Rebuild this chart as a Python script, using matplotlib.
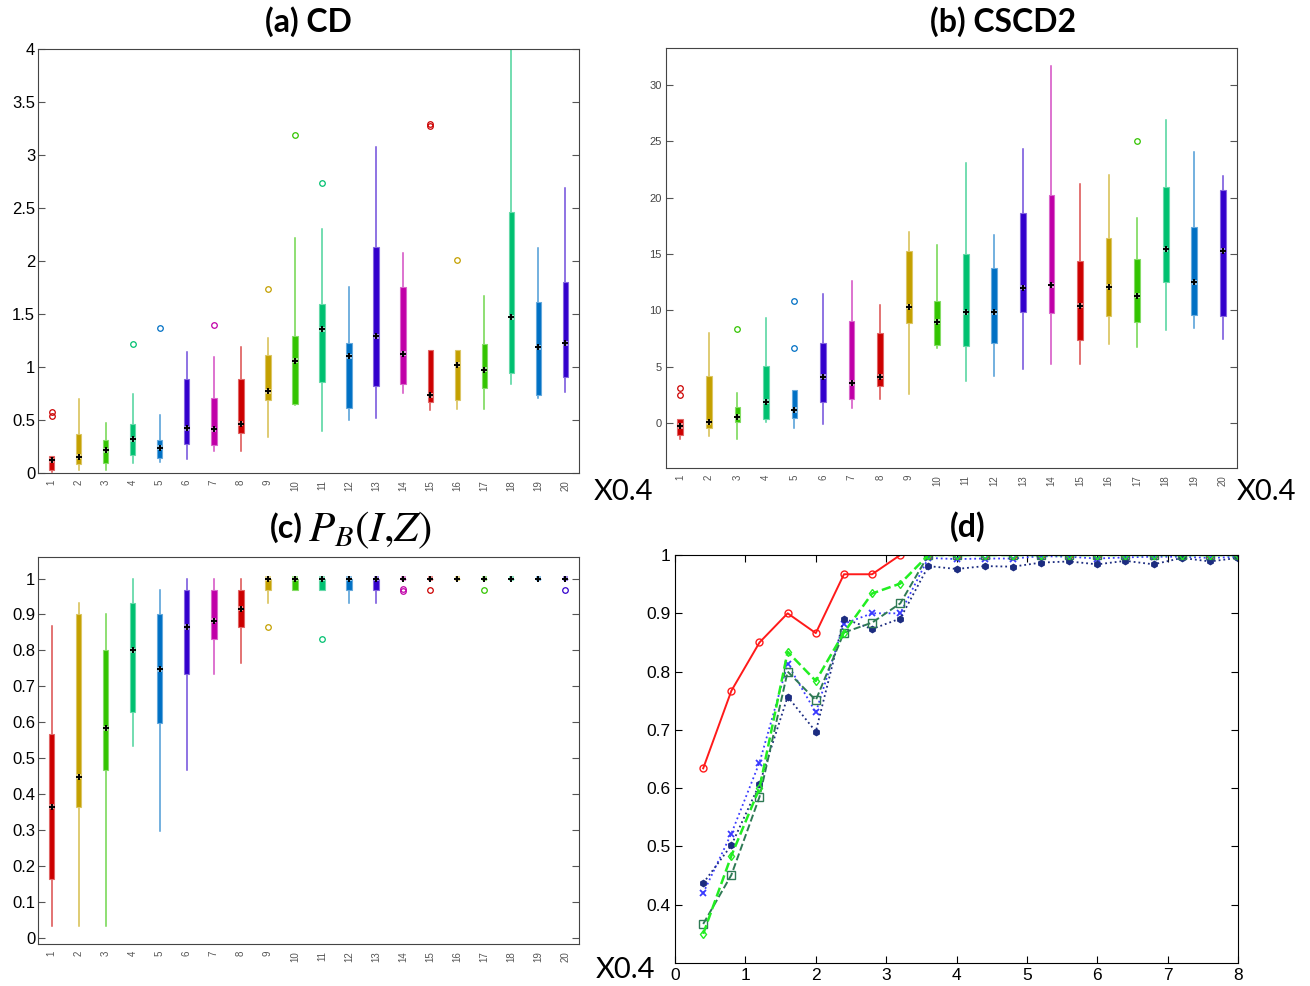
import numpy as np
import matplotlib.pyplot as plt
from matplotlib.ticker import FuncFormatter
from matplotlib.colors import to_rgb

plt.rcParams['mathtext.fontset'] = 'stix'
plt.rcParams['font.family'] = ['Liberation Sans', 'DejaVu Sans']

groups = list(range(1, 21))
palette = ['#cc0000', '#c4a000', '#33c400', '#00c070', '#0070c4', '#3300cc', '#c000a8']

# (a) CD  -- lower whisker, q1, median, q3, upper whisker, outliers
cd_lo = [0.01, 0.025, 0.025, 0.094, 0.104, 0.135, 0.208, 0.208, 0.34, 0.639,
         0.40, 0.50, 0.523, 0.756, 0.592, 0.605, 0.605, 0.838, 0.709, 0.765]
cd_q1 = [0.025, 0.088, 0.098, 0.167, 0.142, 0.277, 0.261, 0.375, 0.69, 0.649,
         0.86, 0.611, 0.819, 0.835, 0.671, 0.693, 0.803, 0.939, 0.74, 0.904]
cd_med = [0.12, 0.154, 0.214, 0.318, 0.239, 0.422, 0.413, 0.466, 0.769, 1.061,
          1.357, 1.10, 1.288, 1.124, 0.734, 1.02, 0.976, 1.468, 1.184, 1.222]
cd_q3 = [0.164, 0.365, 0.309, 0.466, 0.309, 0.891, 0.712, 0.885, 1.109, 1.291,
         1.594, 1.222, 2.13, 1.757, 1.159, 1.159, 1.213, 2.46, 1.609, 1.798]
cd_hi = [0.164, 0.696, 0.476, 0.743, 0.545, 1.14, 1.09, 1.184, 1.272, 2.217,
         2.30, 1.751, 3.077, 2.079, 1.159, 1.159, 1.672, 4.3, 2.12, 2.693]
cd_out = [[0.542, 0.573], [], [], [1.219], [1.364], [], [1.40], [], [1.739], [3.187],
          [2.737], [], [], [], [3.27, 3.294], [2.01], [], [], [], []]

# (b) CSCD2
cs_lo = [-1.39, -1.15, -1.39, 0.09, -0.44, -0.06, 1.36, 2.10, 2.58, 6.66,
         3.76, 4.15, 4.80, 5.27, 5.27, 7.02, 6.72, 8.29, 8.44, 7.49]
cs_q1 = [-1.096, -0.44, 0.09, 0.33, 0.44, 1.87, 2.10, 3.29, 8.88, 6.96,
         6.87, 7.14, 9.89, 9.80, 7.34, 9.51, 8.94, 12.53, 9.59, 9.51]
cs_med = [-0.27, 0.06, 0.53, 1.87, 1.15, 4.12, 3.55, 4.12, 10.33, 8.97,
          9.83, 9.83, 11.99, 12.23, 10.42, 12.08, 11.28, 15.43, 12.47, 15.31]
cs_q3 = [0.385, 4.15, 1.42, 5.03, 2.96, 7.14, 9.06, 7.97, 15.28, 10.81,
         14.98, 13.77, 18.66, 20.28, 14.42, 16.40, 14.54, 20.94, 17.44, 20.70]
cs_hi = [0.385, 8.02, 2.69, 9.36, 2.96, 11.46, 12.64, 10.45, 16.97, 15.84,
         23.07, 16.67, 24.28, 31.68, 21.20, 22.0, 18.24, 26.92, 24.04, 21.91]
cs_out = [[2.52, 3.11], [], [8.38], [], [10.87, 6.66], [], [], [], [], [],
          [], [], [], [], [], [], [24.99], [], [], []]

# (c) P_B(I,Z)
pb_lo = [0.033, 0.033, 0.033, 0.533, 0.298, 0.466, 0.733, 0.765, 0.932, 0.967,
         0.967, 0.932, 0.932, 1.0, 1.0, 1.0, 1.0, 1.0, 1.0, 1.0]
pb_q1 = [0.164, 0.365, 0.466, 0.63, 0.599, 0.733, 0.832, 0.865, 0.967, 0.967,
         0.967, 0.967, 0.967, 1.0, 1.0, 1.0, 1.0, 1.0, 1.0, 1.0]
pb_med = [0.365, 0.449, 0.583, 0.80, 0.748, 0.865, 0.883, 0.916, 1.0, 1.0,
          1.0, 1.0, 1.0, 1.0, 1.0, 1.0, 1.0, 1.0, 1.0, 1.0]
pb_q3 = [0.567, 0.90, 0.80, 0.932, 0.90, 0.967, 0.967, 0.967, 1.0, 1.0,
         1.0, 1.0, 1.0, 1.0, 1.0, 1.0, 1.0, 1.0, 1.0, 1.0]
pb_hi = [0.867, 0.932, 0.90, 1.0, 0.967, 1.0, 1.0, 1.0, 1.0, 1.0,
         1.0, 1.0, 1.0, 1.0, 1.0, 1.0, 1.0, 1.0, 1.0, 1.0]
pb_out = [[], [], [], [], [], [], [], [], [0.865], [],
          [0.832], [], [], [0.966, 0.971], [0.967], [], [0.967], [], [], [0.967]]

# (d) curves over the scaled index
d_x = [0.4, 0.8, 1.2, 1.6, 2.0, 2.4, 2.8, 3.2, 3.6, 4.0,
       4.4, 4.8, 5.2, 5.6, 6.0, 6.4, 6.8, 7.2, 7.6, 8.0]
d_red = [0.634, 0.767, 0.85, 0.90, 0.866, 0.967, 0.967, 1.0, 1.0, 1.0,
         1.0, 1.0, 1.0, 1.0, 1.0, 1.0, 1.0, 1.0, 1.0, 1.0]
d_lime = [0.35, 0.484, 0.60, 0.834, 0.784, 0.867, 0.934, 0.951, 1.0, 1.0,
          1.0, 1.0, 1.0, 1.0, 1.0, 1.0, 1.0, 1.0, 1.0, 1.0]
d_sq = [0.367, 0.451, 0.585, 0.80, 0.751, 0.867, 0.884, 0.917, 1.0, 1.0,
        1.0, 1.0, 1.0, 1.0, 1.0, 1.0, 1.0, 1.0, 1.0, 1.0]
d_cross = [0.42, 0.522, 0.644, 0.813, 0.73, 0.882, 0.90, 0.90, 0.995, 0.993,
           0.994, 0.994, 0.998, 0.997, 0.994, 0.996, 0.997, 0.997, 0.995, 0.997]
d_star = [0.437, 0.502, 0.607, 0.757, 0.697, 0.891, 0.873, 0.891, 0.981, 0.976,
          0.981, 0.98, 0.987, 0.989, 0.984, 0.99, 0.984, 0.995, 0.989, 0.995]


def lighten(c, f=0.45):
    r, g, b = to_rgb(c)
    return (r + (1 - r) * f, g + (1 - g) * f, b + (1 - b) * f)


def compact_box(ax, lo, q1, med, q3, hi, out):
    stats = [dict(whislo=a, q1=b, med=m, q3=d, whishi=e, fliers=f)
             for a, b, m, d, e, f in zip(lo, q1, med, q3, hi, out)]
    bp = ax.bxp(stats, positions=groups, widths=0.2, patch_artist=True,
                showcaps=False, manage_ticks=False)
    cols = [palette[i % len(palette)] for i in range(len(groups))]
    for box, c in zip(bp['boxes'], cols):
        box.set_facecolor(c)
        box.set_edgecolor(lighten(c, 0.4))
        box.set_linewidth(0.8)
    for i, w in enumerate(bp['whiskers']):
        w.set_color(lighten(cols[i // 2], 0.3))
        w.set_linewidth(1.1)
        w.set_zorder(1)
    for fl, c in zip(bp['fliers'], cols):
        fl.set(marker='o', markerfacecolor='none', markeredgecolor=c,
               markersize=4, markeredgewidth=0.9)
    for m in bp['medians']:
        m.set_visible(False)
    ax.scatter(groups, med, s=14, marker='s', facecolor=[lighten(c, 0.55) for c in cols],
               edgecolors='none', zorder=4)
    ax.scatter(groups, med, marker='+', s=20, color='black', linewidths=1.4, zorder=5)

    ax.set_xlim(0.5, 20.5)
    ax.set_xticks(groups)
    ax.set_xticklabels([str(g) for g in groups], rotation=90, fontsize=7, color='#555555')
    ax.tick_params(axis='x', length=0, pad=5)
    ax.tick_params(axis='y', direction='in', right=True, length=5, color='#555555')
    ax.yaxis.set_major_formatter(FuncFormatter(lambda v, p: f'{v:g}'))
    for s in ax.spines.values():
        s.set_color('#444444')


fig = plt.figure(figsize=(13.1, 9.86), dpi=100)

ax_a = fig.add_axes([0.029, 0.5203, 0.413, 0.430])
compact_box(ax_a, cd_lo, cd_q1, cd_med, cd_q3, cd_hi, cd_out)
ax_a.set_ylim(0, 4)
ax_a.set_yticks(np.arange(0, 4.01, 0.5))
ax_a.tick_params(axis='y', labelsize=12, pad=2)

ax_b = fig.add_axes([0.5084, 0.5254, 0.4359, 0.426])
compact_box(ax_b, cs_lo, cs_q1, cs_med, cs_q3, cs_hi, cs_out)
ax_b.set_ylim(-4, 33.3)
ax_b.set_yticks(np.arange(0, 31, 5))
ax_b.tick_params(axis='y', labelsize=8, labelcolor='#444444', pad=3)

ax_c = fig.add_axes([0.029, 0.0426, 0.413, 0.3925])
compact_box(ax_c, pb_lo, pb_q1, pb_med, pb_q3, pb_hi, pb_out)
ax_c.set_ylim(-0.017, 1.06)
ax_c.set_yticks(np.arange(0, 1.01, 0.1))
ax_c.tick_params(axis='y', labelsize=12, pad=2)

ax_d = fig.add_axes([0.5153, 0.0233, 0.4298, 0.4138])
ax_d.plot(d_x, d_red, '-', color='#ff1a1a', lw=1.4, marker='o', ms=5,
          mfc='none', mec='#ff1a1a', mew=1.0)
ax_d.plot(d_x, d_cross, ':', color='#3a3aff', lw=1.3, marker='x', ms=4.5, mew=1.3)
ax_d.plot(d_x, d_star, ':', color='#1c2c80', lw=1.3, marker='h', ms=4.5,
          mfc='#1c2c80', mec='#1c2c80')
ax_d.plot(d_x, d_sq, '--', color='#2f7a55', lw=1.4, marker='s', ms=6,
          mfc='none', mec='#2f7a55', mew=1.0)
ax_d.plot(d_x, d_lime, '--', color='#22ee22', lw=1.8, marker='d', ms=4.5,
          mfc='none', mec='#22ee22', mew=1.0)
ax_d.set_xlim(0, 8)
ax_d.set_ylim(0.3, 1.0)
ax_d.set_xticks(range(0, 9))
ax_d.set_yticks(np.arange(0.4, 1.01, 0.1))
ax_d.yaxis.set_major_formatter(FuncFormatter(lambda v, p: f'{v:g}'))
ax_d.tick_params(direction='in', top=True, right=True, length=5, labelsize=12.5)

title_kw = dict(fontsize=23, fontweight='bold', family='Lato', ha='center', va='center')
fig.text(308 / 1310, 1 - 22 / 986, '(a) CD', **title_kw)
fig.text(1003 / 1310, 1 - 22 / 986, '(b) CSCD2', **title_kw)
fig.text(303 / 1310, 1 - 528 / 986, '(c)', fontsize=23, fontweight='bold', family='Lato',
         ha='right', va='center')
fig.text(308 / 1310, 1 - 530 / 986, r'$P_B(I{,}Z)$', fontsize=31, ha='left', va='center')
fig.text(968 / 1310, 1 - 527 / 986, '(d)', **title_kw)

x_kw = dict(fontsize=21, family='Lato', ha='left', va='center')
fig.text(594 / 1310, 1 - 492 / 986, 'X0.4', **x_kw)
fig.text(1237 / 1310, 1 - 492 / 986, 'X0.4', **x_kw)
fig.text(596 / 1310, 1 - 970 / 986, 'X0.4', **x_kw)

fig.savefig('out.png', dpi=100)
